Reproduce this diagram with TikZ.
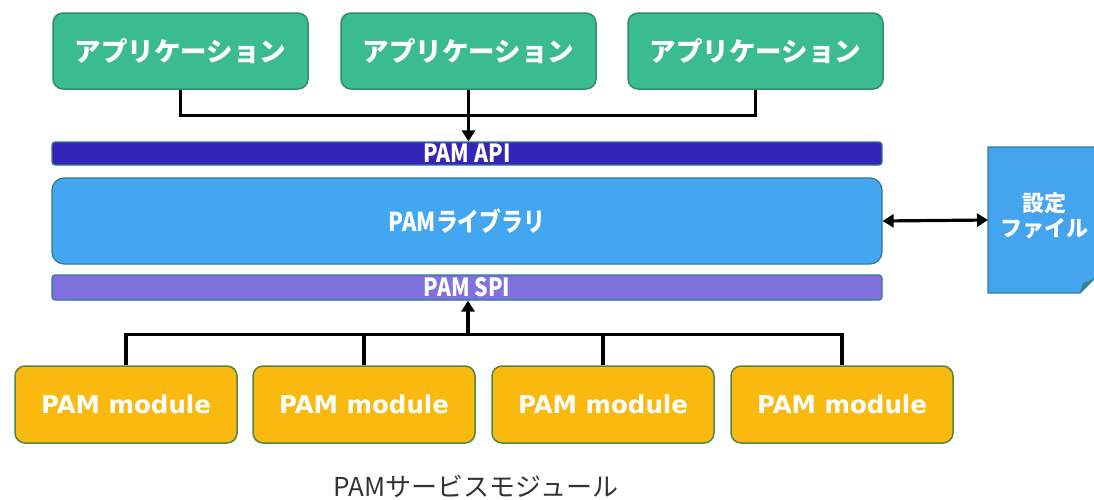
\documentclass[tikz,border=0pt]{standalone}
\usepackage{fontspec}
\newfontfamily\jp{Noto Sans CJK JP}
\newfontfamily\dv{DejaVu Sans}
\usetikzlibrary{arrows.meta}
\definecolor{appgreen}{HTML}{3BBB90}
\definecolor{appborder}{HTML}{2D8E70}
\definecolor{apiblue}{HTML}{3524B8}
\definecolor{libblue}{HTML}{43A6F0}
\definecolor{spipurple}{HTML}{8070E0}
\definecolor{barborder}{HTML}{2E7A8E}
\definecolor{modorange}{HTML}{F9B90F}
\definecolor{modborder}{HTML}{4C8A3F}
\definecolor{docblue}{HTML}{45A4EE}
\definecolor{docborder}{HTML}{2F7F99}
\definecolor{foldteal}{HTML}{2B8B8B}
\definecolor{captiongray}{HTML}{333333}
\tikzset{
  appbox/.style={rounded corners=10pt, fill=appgreen, draw=appborder, line width=1.5pt,
    minimum width=255pt, minimum height=76pt, inner sep=0pt, text=white,
    font=\jp\bfseries\fontsize{26.5}{30}\selectfont},
  barbox/.style={rounded corners=3pt, draw=barborder, line width=1.2pt,
    minimum width=830pt, inner sep=0pt, text=white},
  modbox/.style={rounded corners=10pt, fill=modorange, draw=modborder, line width=1.5pt,
    minimum width=222pt, minimum height=77pt, inner sep=0pt, text=white,
    font=\dv\bfseries\fontsize{24.5}{28}\selectfont},
  conn/.style={line width=3.2pt, draw=black},
  tip/.style={-{Triangle[length=11pt,width=13pt]}},
}
\begin{document}
\begin{tikzpicture}[x=1pt,y=-1pt]
\useasboundingbox (0,0) rectangle (1094,499);
% applications
\node[appbox] (a1) at (180.5,51) {アプリケーション};
\node[appbox] (a2) at (468.5,51) {アプリケーション};
\node[appbox] (a3) at (755.5,51) {アプリケーション};
% layers
\node[barbox, fill=apiblue, minimum height=23pt, font=\jp\bfseries\fontsize{25}{26}\selectfont] (api) at (467,153.5) {\scalebox{0.85}[1]{PAM API}};
\node[barbox, fill=libblue, minimum height=86pt, rounded corners=12pt, font=\jp\bfseries\fontsize{26}{28}\selectfont] (lib) at (467,221) {\scalebox{0.84}[1]{PAMライブラリ}};
\node[barbox, fill=spipurple, minimum height=25pt, font=\jp\bfseries\fontsize{25}{26}\selectfont] (spi) at (467,287.5) {\scalebox{0.85}[1]{PAM SPI}};
% modules
\node[modbox] (m1) at (126,404.5) {PAM module};
\node[modbox] (m2) at (364,404.5) {PAM module};
\node[modbox] (m3) at (603,404.5) {PAM module};
\node[modbox] (m4) at (842,404.5) {PAM module};
% settings file
\path[fill=docblue, draw=docborder, line width=1.2pt]
  (988,147) -- (1100,147) -- (1100,279) -- (1094,279) -- (1080,293) -- (988,293) -- cycle;
\path[fill=foldteal] (1080,293) -- (1083,283) -- (1094,279) -- cycle;
\coordinate (docw) at (988,220);
\node[text=white, align=center, font=\jp\bfseries\fontsize{22}{25}\selectfont] (cfg) at (1044,216) {設定\\ファイル};
% caption
\node[text=captiongray, font=\jp\fontsize{26}{28}\selectfont] (cap) at (476,486) {PAMサービスモジュール};
% top connectors
\draw[conn] (a1.south) -- ++(0,26) -| (a3.south);
\draw[conn, tip] (a2.south) -- (a2.south |- api.north);
% bottom connectors
\draw[conn] (m1.north) -- ++(0,-31) -| (m4.north);
\draw[conn] (m2.north) -- ++(0,-31);
\draw[conn] (m3.north) -- ++(0,-31);
\coordinate (hub) at (468,335);
\draw[conn, tip] (hub) -- (hub |- spi.south);
% config arrow
\draw[conn, {Triangle[length=11pt,width=13pt]}-{Triangle[length=11pt,width=13pt]}] (lib.east) -- (docw);
\end{tikzpicture}
\end{document}
